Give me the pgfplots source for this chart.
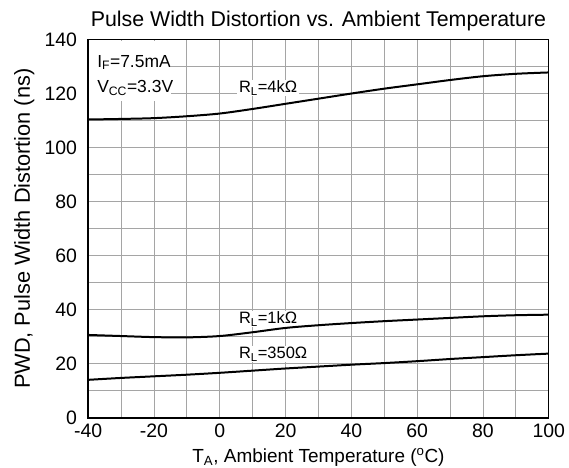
\documentclass[border=0pt]{standalone}
\usepackage{pgfplots}
\pgfplotsset{compat=1.18}
\usepackage{fontspec}
\setmainfont{Liberation Sans}
\definecolor{gridgray}{RGB}{165,165,165}
\begin{document}
\begin{tikzpicture}
\begin{axis}[
    set layers,
    scale only axis,
    width=460bp, height=378bp,
    xmin=-40, xmax=100, ymin=0, ymax=140,
    xtick={-40,-20,...,100}, ytick={0,20,...,140},
    minor xtick={-30,-10,...,90}, minor ytick={10,30,...,130},
    grid=both,
    major grid style={draw=gridgray, line width=0.9bp},
    minor grid style={draw=gridgray, line width=0.9bp},
    axis line style={black, line width=1.4pt},
    tick pos=left, tick align=outside,
    major tick length=1bp, minor tick length=0pt,
    tick style={black, line width=0.8pt},
    /pgf/number format/assume math mode=true,
    xticklabel style={font=\fontsize{19.5}{22}\selectfont, anchor=north, inner sep=0pt, yshift=-5bp},
    yticklabel style={font=\fontsize{19.5}{22}\selectfont, anchor=east, inner sep=0pt, xshift=-10bp},
    title={Pulse Width Distortion vs. Ambient Temperature},
    title style={font=\fontsize{21.4}{24}\selectfont, at={(rel axis cs:0.5,1.0185)}, anchor=base, inner sep=0pt},
    xlabel={T\textsubscript{A}, Ambient Temperature (\textsuperscript{o}C)},
    xlabel style={font=\fontsize{19}{22}\selectfont, at={(rel axis cs:0.5,-0.1164)}, anchor=base, inner sep=0pt},
    ylabel={PWD, Pulse Width Distortion (ns)},
    ylabel style={font=\fontsize{21.8}{25}\selectfont, at={(rel axis cs:-0.139,0.5)}, anchor=center, inner sep=0pt},
    clip=false,
]
\addplot[black, line width=2pt, smooth] coordinates {
(-40,110.4) (-30,110.6) (-20,110.9) (-10,111.6) (0,112.6) (10,114.3) (20,116.2) (30,118.1) (40,120) (50,121.8) (60,123.4) (70,125) (80,126.4) (90,127.3) (100,127.8)};
\addplot[black, line width=2pt, smooth] coordinates {
(-40,30.7) (-30,30.3) (-20,29.9) (-10,29.8) (0,30.3) (10,31.7) (20,33.3) (30,34.3) (40,35.1) (50,35.8) (60,36.4) (70,37) (80,37.6) (90,38) (100,38.2)};
\addplot[black, line width=2pt, smooth] coordinates {
(-40,14.1) (-30,14.8) (-20,15.4) (-10,16) (0,16.7) (10,17.5) (20,18.3) (30,19) (40,19.7) (50,20.3) (60,21) (70,21.8) (80,22.5) (90,23.2) (100,23.8)};
\begin{pgfonlayer}{pre main}
\node[fill=white, inner xsep=2pt, inner ysep=1pt, anchor=base west, font=\fontsize{16.5}{19}\selectfont] at (axis cs:5.2,120.4) {R\textsubscript{L}=4kΩ};
\node[fill=white, inner xsep=2pt, inner ysep=1pt, anchor=base west, font=\fontsize{16.5}{19}\selectfont] at (axis cs:5.2,34.8) {R\textsubscript{L}=1kΩ};
\node[fill=white, inner xsep=2pt, inner ysep=1pt, anchor=base west, font=\fontsize{16.5}{19}\selectfont] at (axis cs:5.2,21.9) {R\textsubscript{L}=350Ω};
\node[fill=white, inner sep=0pt, minimum width=82bp, minimum height=60bp, anchor=north west, xshift=1bp, yshift=-1bp] at (rel axis cs:0,1) {};
\node[inner sep=0pt, anchor=base west, font=\fontsize{17.5}{20}\selectfont] at (axis cs:-37.3,129.7) {I\textsubscript{F}=7.5mA};
\node[inner sep=0pt, anchor=base west, font=\fontsize{17.5}{20}\selectfont] at (axis cs:-37.3,120.4) {V\textsubscript{CC}=3.3V};
\end{pgfonlayer}
\end{axis}
\path ([xshift=-14bp,yshift=11bp]current bounding box.north west) ([xshift=4bp,yshift=-2bp]current bounding box.south east);
\end{tikzpicture}
\end{document}
